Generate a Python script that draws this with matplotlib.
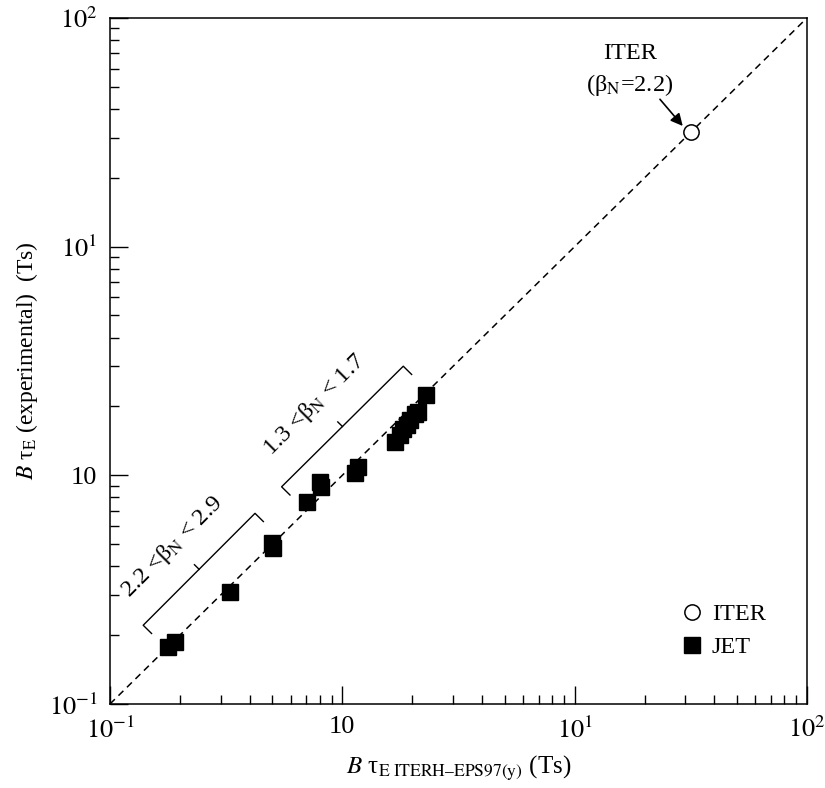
import numpy as np
import matplotlib.pyplot as plt
from matplotlib.ticker import FixedLocator, LogLocator, NullFormatter

plt.rcParams['font.family'] = ['Liberation Serif', 'DejaVu Serif']
plt.rcParams['mathtext.fontset'] = 'stix'

# JET points (B tau_E predicted vs experimental, Ts)
jet_x = [0.178, 0.191, 0.329, 0.497, 0.502, 0.706, 0.802, 0.807, 1.134, 1.172,
         1.686, 1.77, 1.83, 1.89, 1.95, 2.06, 2.12, 2.29]
jet_y = [0.178, 0.187, 0.308, 0.504, 0.480, 0.767, 0.938, 0.891, 1.02, 1.09,
         1.40, 1.50, 1.59, 1.66, 1.75, 1.85, 1.90, 2.24]

# ITER prediction
iter_x = [31.6]
iter_y = [31.6]

# beta_N groups: bracket end points and label position
bracket_lo = [(0.139, 0.221), (0.421, 0.682)]
bracket_hi = [(0.548, 0.891), (1.83, 3.0)]
label_lo = (0.186, 0.484)
label_hi = (0.762, 2.03)

major_ticks = [0.1, 1, 10, 100]
tick_labels = ['$10^{-1}$', '10', '$10^{1}$', '$10^{2}$']


def bracket(ax, p0, p1, d=0.036, dm=0.02):
    (x0, y0), (x1, y1) = p0, p1
    f = 10 ** d
    ax.plot([x0 * f, x0, x1, x1 * f], [y0 / f, y0, y1, y1 / f], 'k-', lw=1)
    xm, ym = np.sqrt(x0 * x1), np.sqrt(y0 * y1)
    g = 10 ** dm
    ax.plot([xm, xm / g], [ym, ym * g], 'k-', lw=1)


fig = plt.figure(figsize=(8.25, 7.88), dpi=100)
ax = fig.add_axes([0.1333, 0.1066, 0.8448, 0.8706])

ax.plot([0.1, 100], [0.1, 100], 'k--', lw=1.1, dashes=(4.5, 3.3))
ax.plot(iter_x, iter_y, 'o', ms=11, mfc='white', mec='black', mew=1.1,
        label='ITER', zorder=5)
ax.plot(jet_x, jet_y, 's', ms=11, color='black', label='JET', zorder=5)

ax.set_xscale('log')
ax.set_yscale('log')
ax.set_xlim(0.1, 100)
ax.set_ylim(0.1, 100)

for axis in (ax.xaxis, ax.yaxis):
    axis.set_major_locator(FixedLocator(major_ticks))
    axis.set_minor_locator(LogLocator(base=10, subs=np.arange(2, 10)))
    axis.set_minor_formatter(NullFormatter())
ax.set_xticklabels(tick_labels)
ax.set_yticklabels(tick_labels)

ax.tick_params(which='both', direction='in', top=False, right=False,
               labelsize=19, width=1)
ax.tick_params(which='major', length=13, pad=9)
ax.tick_params(which='minor', length=6.5)
for s in ax.spines.values():
    s.set_linewidth(1.1)

ax.set_xlabel(r'$B$ τ$_{\mathrm{E\ ITERH–EPS97(y)}}$ (Ts)', fontsize=18, labelpad=8)
ax.set_ylabel(r'$B$ τ$_{\rm E}$ (experimental)  (Ts)', fontsize=17, labelpad=6)

bracket(ax, *bracket_lo)
bracket(ax, *bracket_hi)
ax.text(*label_lo, r'2.2 <β$_{\rm N}$ < 2.9', fontsize=17.5, rotation=45,
        ha='center', va='center', rotation_mode='anchor')
ax.text(*label_hi, r'1.3 <β$_{\rm N}$ < 1.7', fontsize=17.5, rotation=45,
        ha='center', va='center', rotation_mode='anchor')

ax.text(17.3, 59, 'ITER\n(β$_{\\rm N}$=2.2)', fontsize=17.5, ha='center',
        va='center', linespacing=1.4)
ax.annotate('', xy=(29.2, 33.7), xytext=(23.3, 44.1),
            arrowprops=dict(arrowstyle='-|>', color='black', lw=1.2,
                            mutation_scale=18, shrinkA=0, shrinkB=0))

ax.legend(frameon=False, loc='center left', bbox_to_anchor=(0.818, 0.107),
          fontsize=17.5, handlelength=1, handletextpad=0.3, labelspacing=0.45,
          borderpad=0, borderaxespad=0)

fig.savefig('out.png', dpi=100)
